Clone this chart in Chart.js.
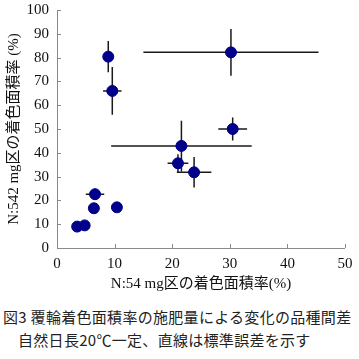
<!DOCTYPE html>
<html><head><meta charset="utf-8">
<script src="https://cdn.jsdelivr.net/npm/chart.js@4"></script>
<style>
html,body{margin:0;padding:0;background:#fff;width:359px;height:359px;overflow:hidden}
#wrap{position:absolute;left:0;top:0;width:359px;height:300px}
.cap{position:absolute;font-family:"Noto Sans CJK JP";font-size:15px;color:#222;white-space:nowrap;line-height:1;letter-spacing:0.3px}
</style></head>
<body>
<div id="wrap"><canvas id="c" width="359" height="300"></canvas></div>
<div class="cap" style="left:3px;top:309px">図3 覆輪着色面積率の施肥量による変化の品種間差</div>
<div class="cap" style="left:18px;top:332px">自然日長20℃一定、直線は標準誤差を示す</div>
<script>
const xValues = [3.5, 4.8, 6.6, 6.4, 10.4, 8.9, 9.6, 30.5, 21.6, 21.0, 23.8, 30.2];
const yValues = [9.0, 9.5, 22.6, 16.7, 17.1, 80.4, 66.0, 50.0, 42.9, 35.6, 31.8, 82.2];
const xErrors = [0, 0, 1.6, 0, 0, 0.9, 1.6, 2.5, 12.2, 1.8, 3.0, 15.2];
const yErrors = [0, 0, 2.3, 0, 0, 6.6, 10.0, 4.8, 10.6, 3.8, 6.4, 9.8];
const xTicks = [0, 10, 20, 30, 40, 50];
const yTicks = [0, 10, 20, 30, 40, 50, 60, 70, 80, 90, 100];
const xTitle = 'N:54 mg区の着色面積率(%)';
const yTitle = 'N:542 mg区の着色面積率 (%)';

const points = xValues.map((x, i) => ({x: x, y: yValues[i]}));
const tickFont = {family: '"Liberation Serif", "DejaVu Serif", serif', size: 15};
const titleFont = {family: '"Liberation Serif", "Noto Sans CJK JP", serif', size: 15};

const errorBars = {
  id: 'errorBars',
  beforeDatasetsDraw(chart) {
    const ctx = chart.ctx, xs = chart.scales.x, ys = chart.scales.y;
    ctx.save();
    ctx.strokeStyle = '#1a1a1a';
    ctx.lineWidth = 1.5;
    ctx.beginPath();
    points.forEach((p, i) => {
      if (xErrors[i] > 0) {
        const py = ys.getPixelForValue(p.y);
        ctx.moveTo(xs.getPixelForValue(p.x - xErrors[i]), py);
        ctx.lineTo(xs.getPixelForValue(p.x + xErrors[i]), py);
      }
      if (yErrors[i] > 0) {
        const px = xs.getPixelForValue(p.x);
        ctx.moveTo(px, ys.getPixelForValue(p.y - yErrors[i]));
        ctx.lineTo(px, ys.getPixelForValue(p.y + yErrors[i]));
      }
    });
    ctx.stroke();
    ctx.restore();
  },
  afterDraw(chart) {
    const ctx = chart.ctx, xs = chart.scales.x, ys = chart.scales.y, a = chart.chartArea;
    ctx.save();
    ctx.strokeStyle = '#8a8a8a';
    ctx.lineWidth = 1;
    ctx.beginPath();
    ctx.moveTo(a.left + 0.5, a.top); ctx.lineTo(a.left + 0.5, a.bottom + 0.5); ctx.lineTo(a.right, a.bottom + 0.5);
    xTicks.forEach(v => { const px = Math.round(xs.getPixelForValue(v)) + 0.5; ctx.moveTo(px, a.bottom); ctx.lineTo(px, a.bottom - 4); });
    yTicks.forEach(v => { const py = Math.round(ys.getPixelForValue(v)) + 0.5; ctx.moveTo(a.left, py); ctx.lineTo(a.left + 4, py); });
    ctx.stroke();
    ctx.restore();
  }
};

new Chart(document.getElementById('c'), {
  type: 'scatter',
  data: {datasets: [{data: points, backgroundColor: '#00008b', borderColor: '#00008b', pointRadius: 5.5, pointHoverRadius: 5.5}]},
  options: {
    responsive: false, animation: false, events: [],
    layout: {padding: {top: 10, right: 14, left: 0, bottom: 7}},
    plugins: {legend: {display: false}, tooltip: {enabled: false}},
    scales: {
      x: {type: 'linear', min: 0, max: 50,
        afterBuildTicks: s => { s.ticks = xTicks.map(v => ({value: v})); },
        afterFit: s => { s.height = 45; s.paddingLeft = 0; s.paddingRight = 0; },
        grid: {display: false, drawTicks: false}, border: {display: false},
        ticks: {font: tickFont, color: '#111', padding: 7, maxRotation: 0},
        title: {display: true, text: xTitle, font: titleFont, color: '#111', padding: {top: 0, bottom: 0}}},
      y: {type: 'linear', min: 0, max: 100,
        afterBuildTicks: s => { s.ticks = yTicks.map(v => ({value: v})); },
        afterFit: s => { s.width = 57; s.paddingTop = 0; s.paddingBottom = 0; },
        grid: {display: false, drawTicks: false}, border: {display: false},
        ticks: {font: tickFont, color: '#111', padding: 8},
        title: {display: true, text: yTitle, font: titleFont, color: '#111', padding: {top: 5, bottom: 0}}}
    }
  },
  plugins: [errorBars]
});
</script>
</body></html>
